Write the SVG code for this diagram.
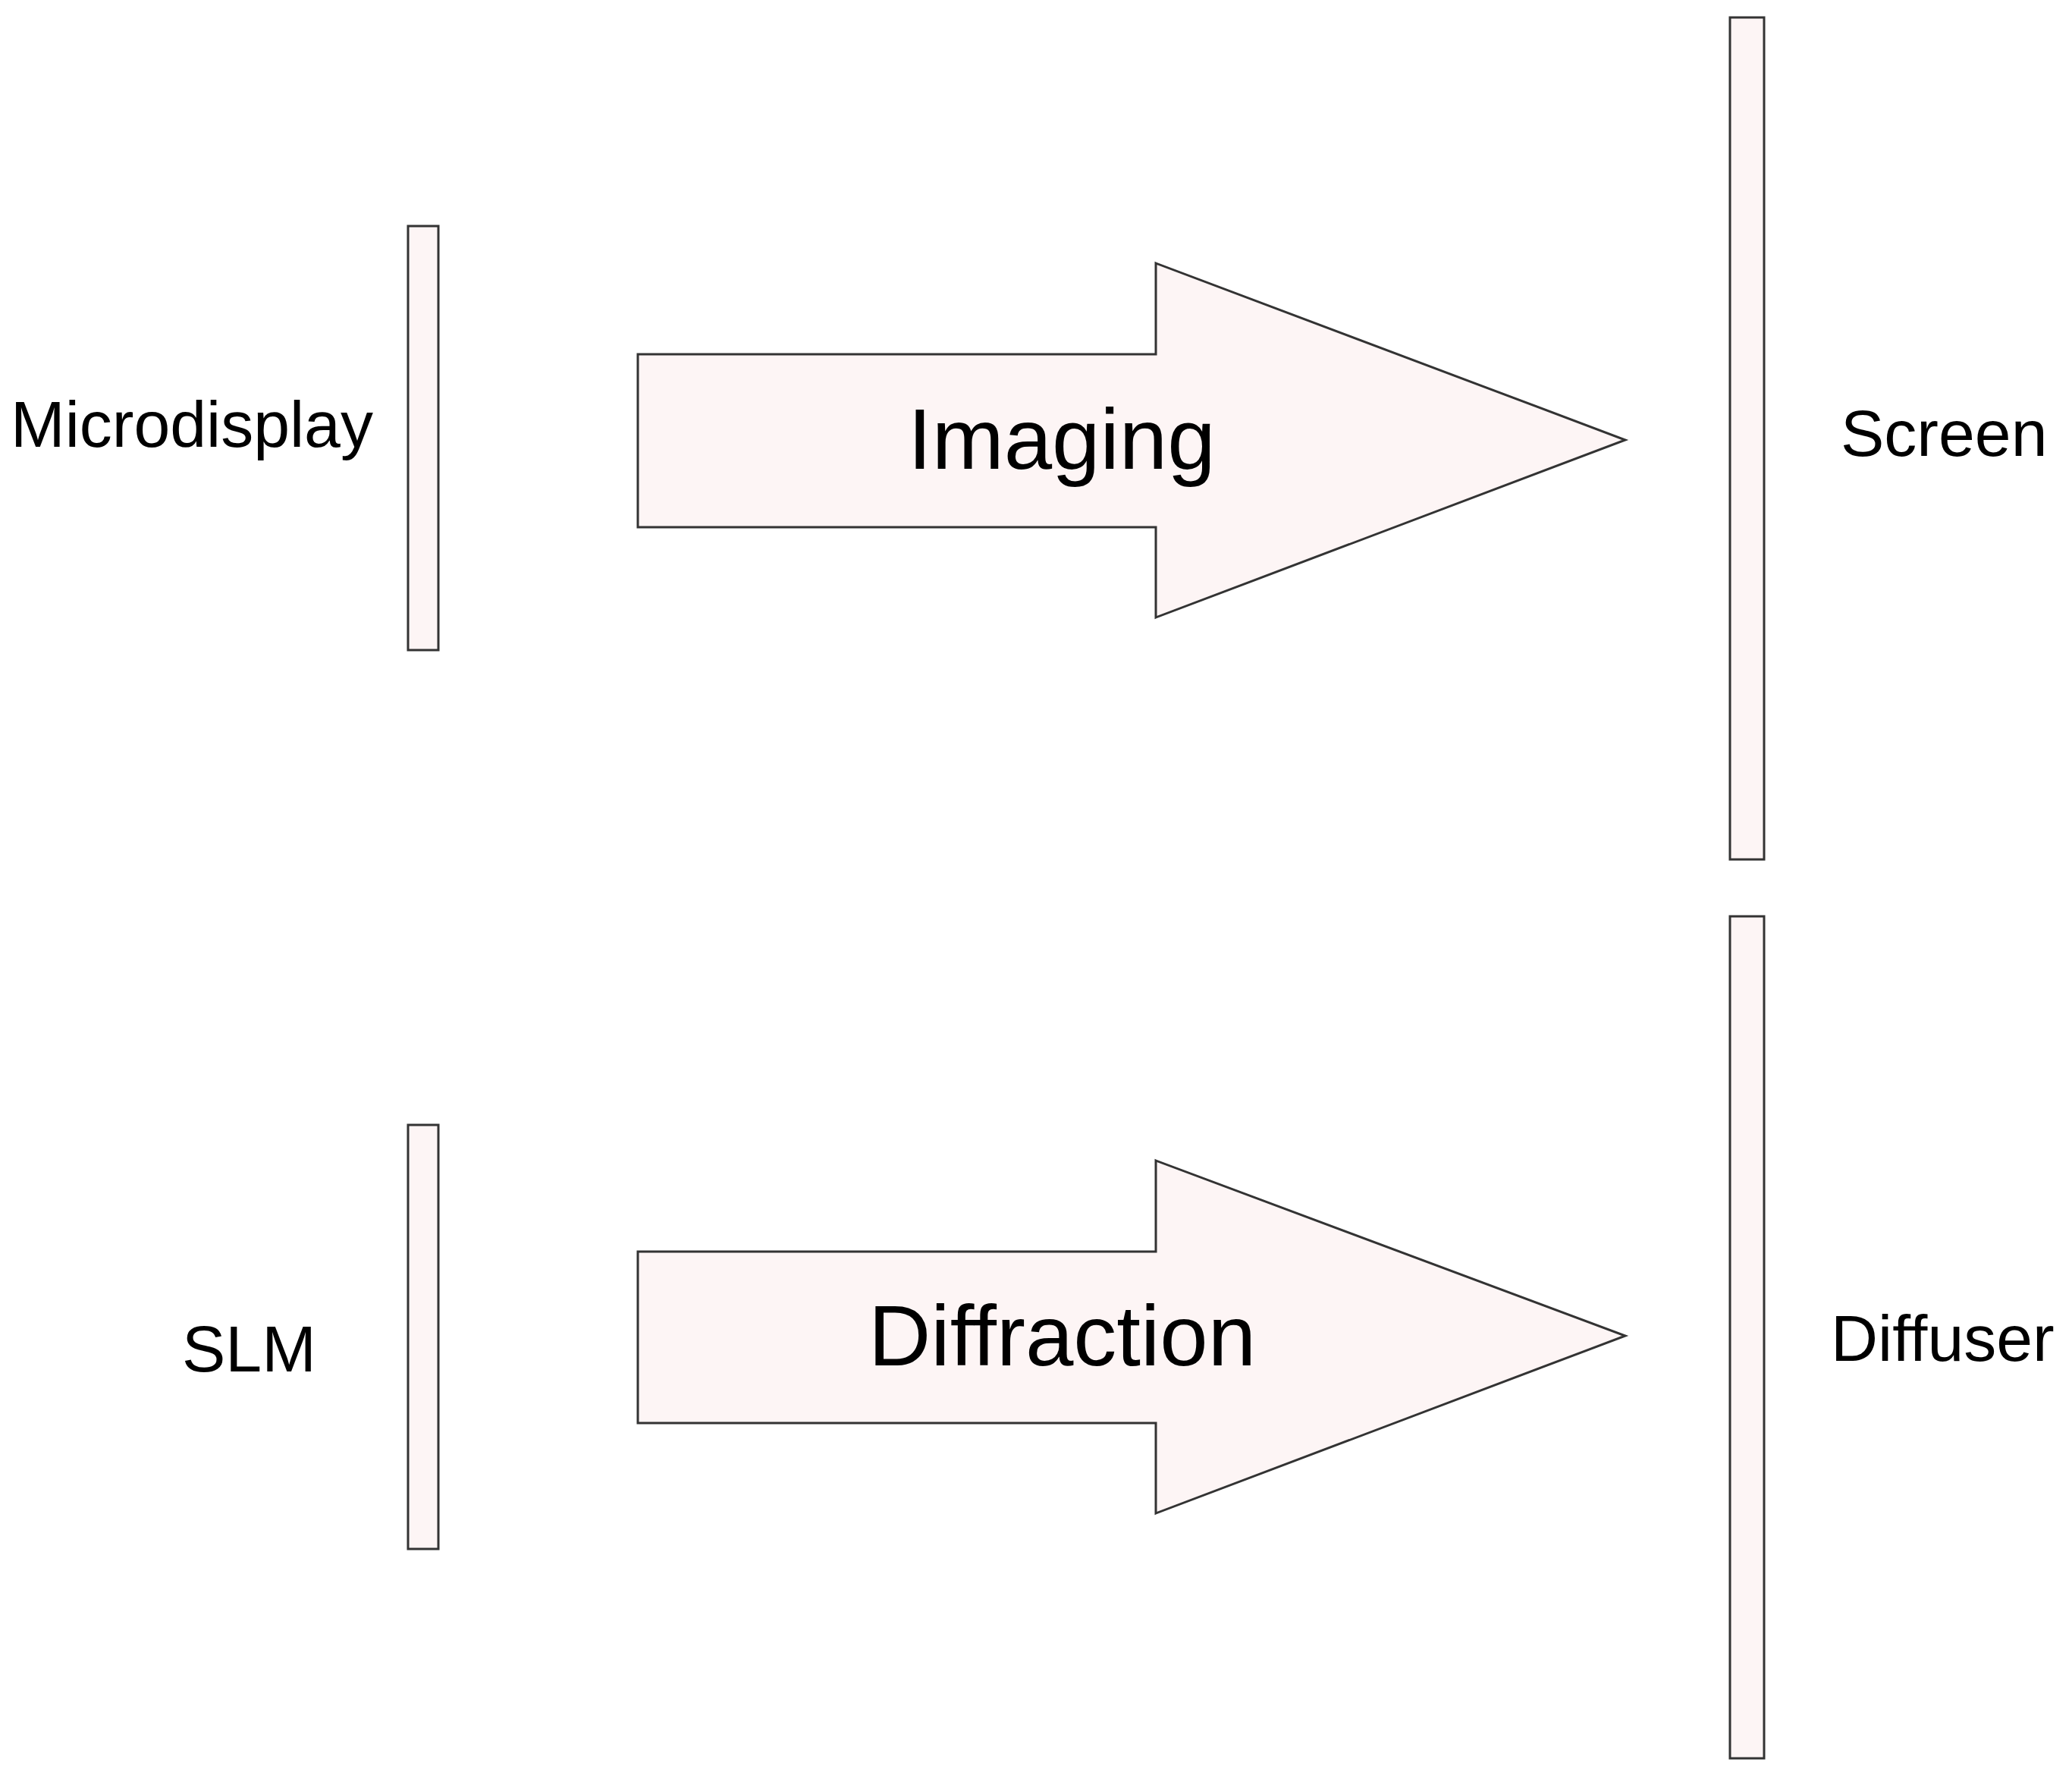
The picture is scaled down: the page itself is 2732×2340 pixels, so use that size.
<svg xmlns="http://www.w3.org/2000/svg" width="2732" height="2340" viewBox="0 0 2732 2340">
<style>
.p{fill:#fdf5f5;stroke:#333;stroke-width:3}
.t{font-family:"Liberation Sans",Arial,sans-serif;fill:#000}
</style>
<rect width="2732" height="2340" fill="#fff"/>
<g id="microdisplay"><rect class="p" x="538" y="298" width="40" height="559"/><text class="t" x="14" y="589" font-size="86">Microdisplay</text></g>
<g id="slm"><rect class="p" x="538" y="1483" width="40" height="559"/><text class="t" x="240" y="1808" font-size="86">SLM</text></g>
<g id="screen"><rect class="p" x="2281" y="23" width="45" height="1110"/><text class="t" x="2427" y="601" font-size="86">Screen</text></g>
<g id="diffuser"><rect class="p" x="2281" y="1208" width="45" height="1110"/><text class="t" x="2414" y="1794" font-size="86">Diffuser</text></g>
<g id="connectors">
<g id="imaging"><polygon class="p" points="841,467 1524,467 1524,347 2143,580 1524,814 1524,695 841,695"/><text class="t" x="1197" y="618" font-size="114">Imaging</text></g>
<g id="diffraction"><polygon class="p" points="841,1650 1524,1650 1524,1530 2143,1761 1524,1995 1524,1876 841,1876"/><text class="t" x="1145" y="1800" font-size="114">Diffraction</text></g>
</g>
</svg>
